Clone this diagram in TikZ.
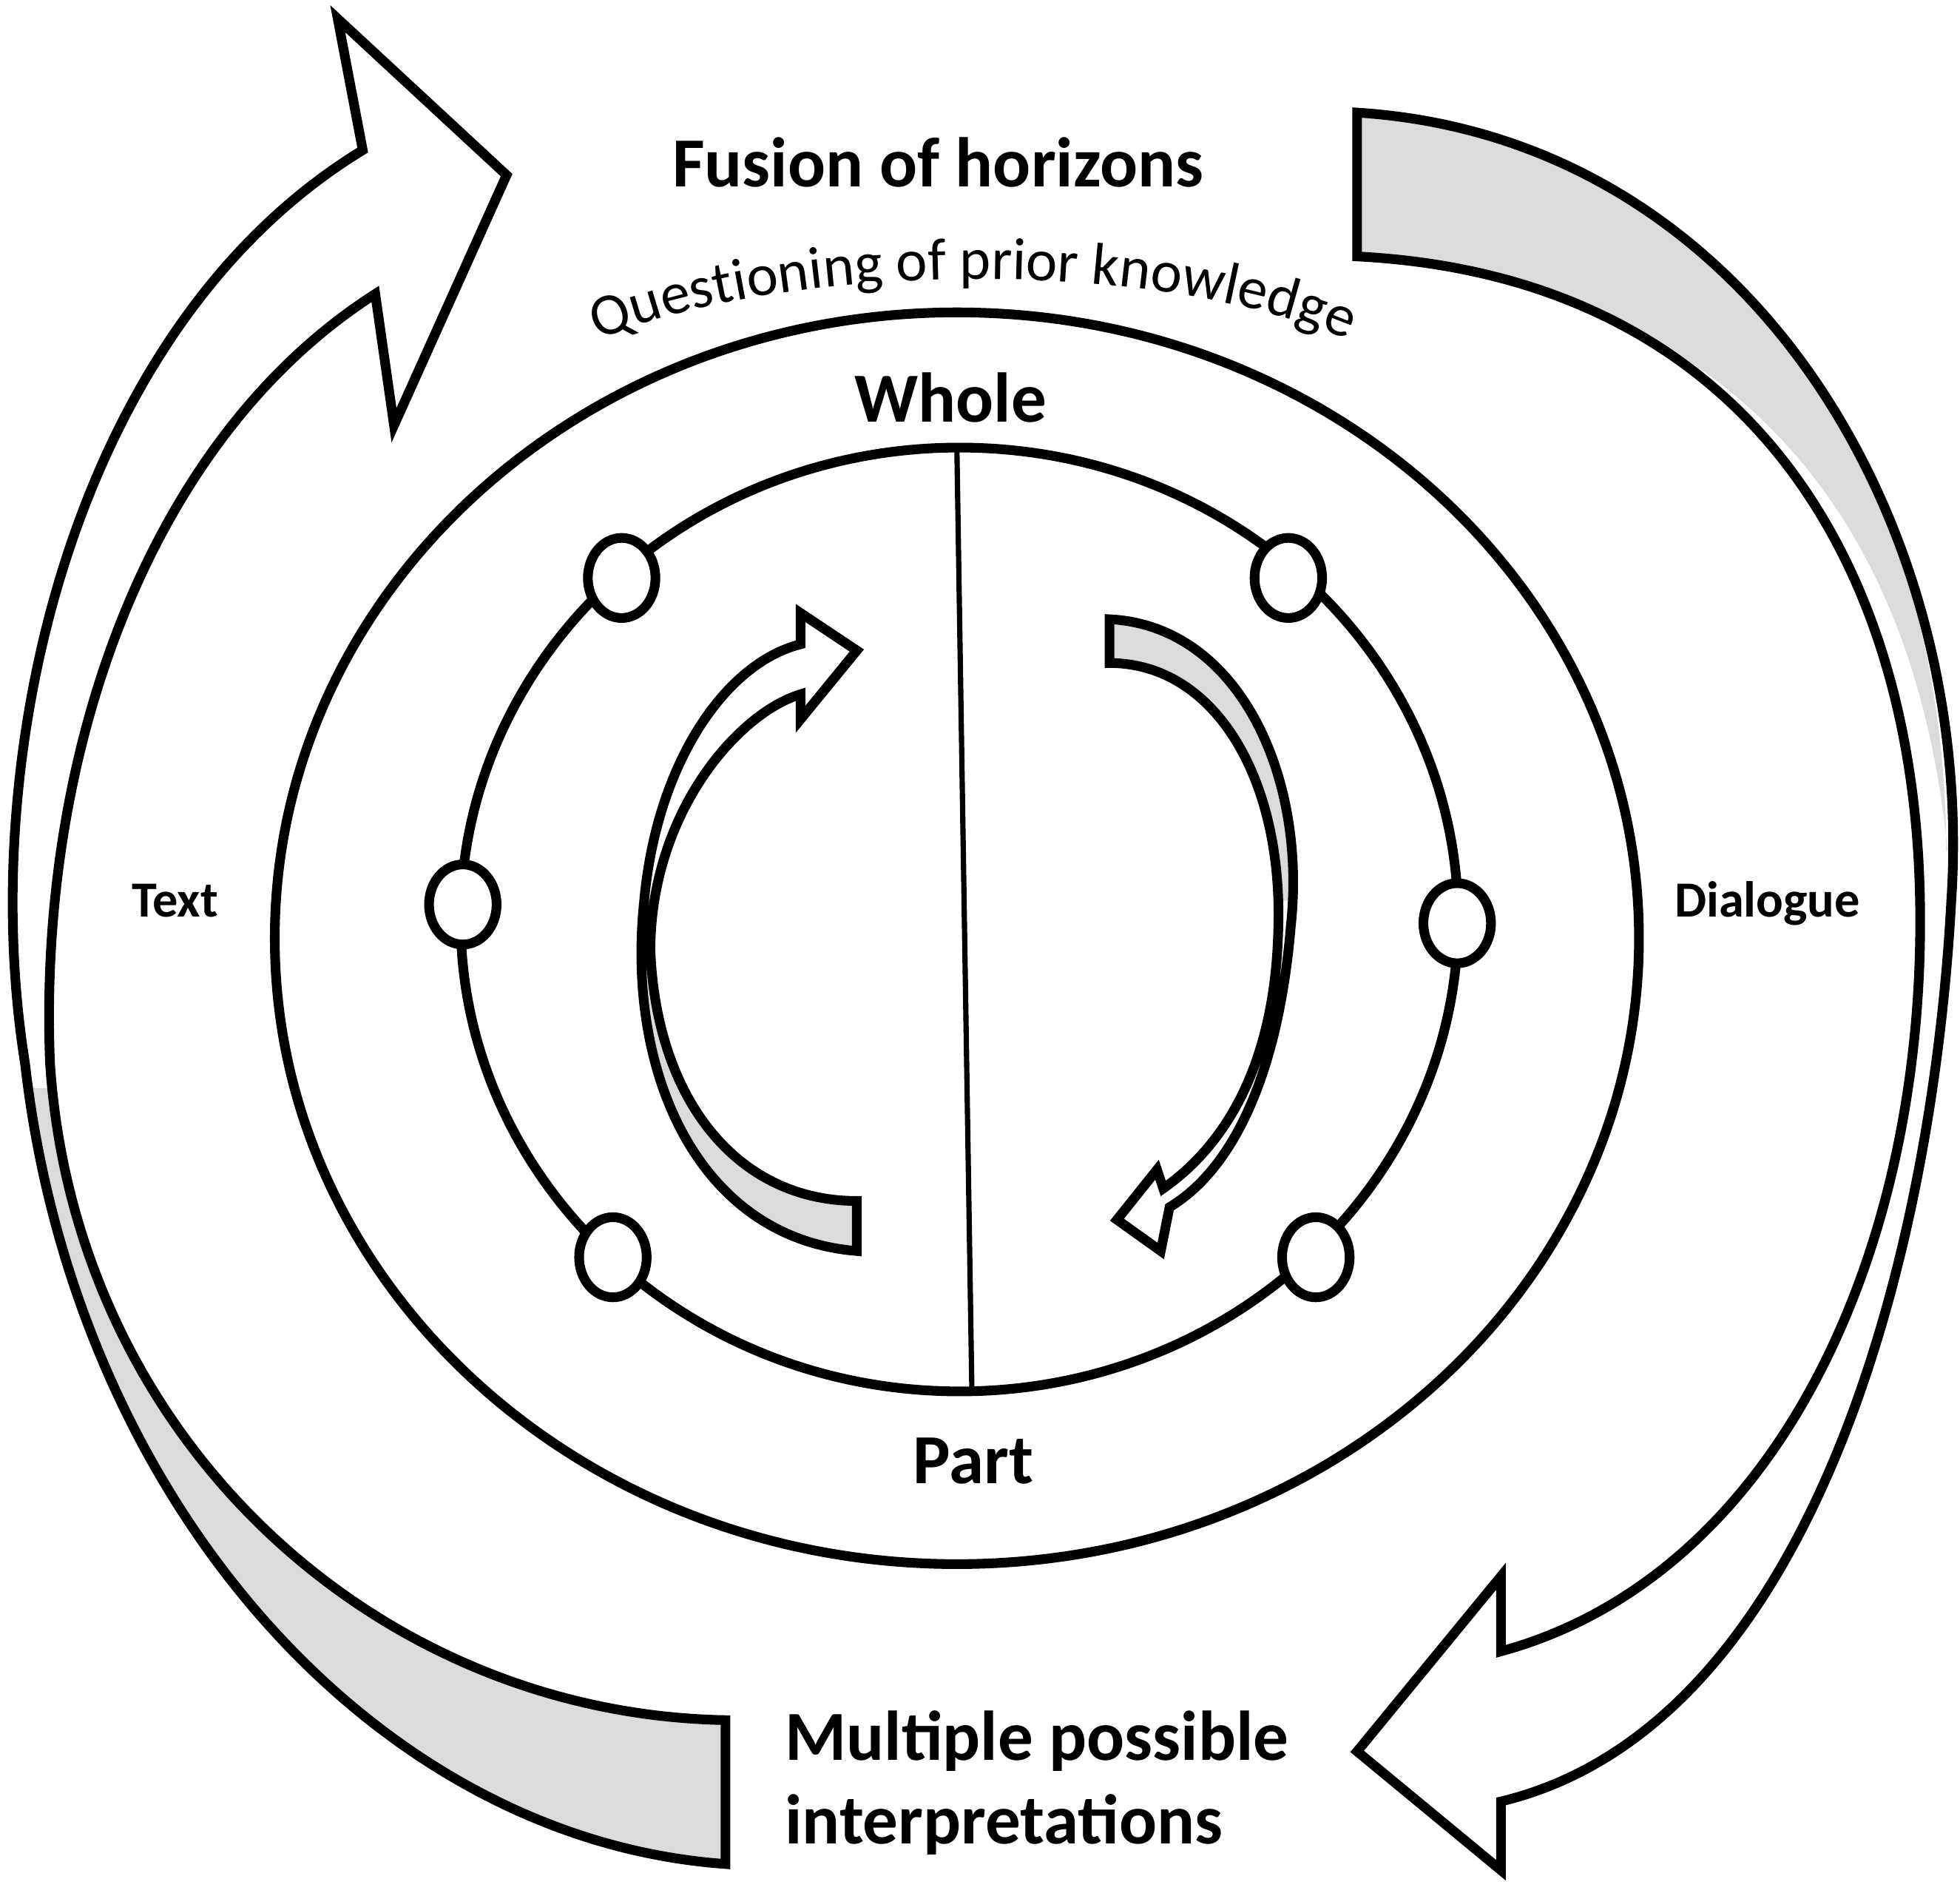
\documentclass[tikz,border=0pt]{standalone}
\usepackage{fontspec}
\setmainfont{Carlito}
\usetikzlibrary{decorations.text,shapes.geometric}
\definecolor{band}{gray}{0.86}
\begin{document}
\begin{tikzpicture}[x=0.01cm,y=-0.01cm,line width=2.2pt,line join=miter,
  lab/.style={font=\bfseries\fontsize{16}{19}\selectfont},
  sml/.style={font=\bfseries\fontsize{11.5}{13}\selectfont},
  dot/.style={draw,fill=white,ellipse,minimum width=0.54cm,minimum height=0.64cm,inner sep=0pt,line width=2.2pt}]
\useasboundingbox (0,0) rectangle (1567,1513);
% left big arrow
\begin{scope}
\clip (0,870) rectangle (700,1513);
\fill[band] (290,120) .. controls (60,260) and (-20,600) .. (20,850) .. controls (60,1200) and (300,1470) .. (580,1490) -- (580,1375) .. controls (300,1370) and (60,1150) .. (40,850) .. controls (30,600) and (120,350) .. (300,235) -- cycle;
\end{scope}
\draw (580,1375) .. controls (300,1370) and (60,1150) .. (40,850) .. controls (30,600) and (120,350) .. (300,235) -- (315,340) -- (405,140) -- (270,15) -- (290,120) .. controls (60,260) and (-20,600) .. (20,850) .. controls (60,1200) and (300,1470) .. (580,1490) -- cycle;
% right big arrow
\begin{scope}
\clip (1000,0) rectangle (1567,680);
\fill[band] (1085,90) .. controls (1400,110) and (1570,400) .. (1555,720) .. controls (1540,1000) and (1420,1260) .. (1200,1320) -- (1200,1440) .. controls (1450,1380) and (1570,1000) .. (1560,720) .. controls (1545,430) and (1400,230) .. (1085,205) -- cycle;
\end{scope}
\draw (1085,90) .. controls (1400,110) and (1580,420) .. (1560,720) .. controls (1545,1000) and (1450,1380) .. (1200,1440) -- (1200,1495) -- (1085,1400) -- (1200,1260) -- (1200,1320) .. controls (1420,1260) and (1540,1000) .. (1535,720) .. controls (1530,430) and (1380,220) .. (1085,205) -- cycle;
% circles
\node[draw,ellipse,minimum width=10.9cm,minimum height=10cm,line width=2.2pt] (outer) at (765,750) {};
\node[draw,ellipse,minimum width=7.97cm,minimum height=7.54cm,line width=2.2pt] (inner) at (767,735) {};
\draw[line width=1.2pt] (765,358) -- (777,1112);
\node[dot] (d1) at (497,462) {};
\node[dot] (d2) at (1030,462) {};
\node[dot] (d3) at (370,723) {};
\node[dot] (d4) at (1165,738) {};
\node[dot] (d5) at (490,1005) {};
\node[dot] (d6) at (1052,1005) {};
% small left arrow
\begin{scope}
\clip (400,760) rectangle (760,1100);
\fill[band] (685,1000) .. controls (560,990) and (500,860) .. (515,720) .. controls (530,620) and (580,530) .. (640,515) -- (640,555) .. controls (590,570) and (520,650) .. (520,760) .. controls (525,880) and (590,960) .. (685,960) -- cycle;
\end{scope}
\draw (685,960) .. controls (590,960) and (525,880) .. (520,760) .. controls (520,650) and (590,570) .. (640,555) -- (640,575) -- (685,520) -- (640,490) -- (640,515) .. controls (580,530) and (525,610) .. (515,720) .. controls (500,860) and (560,990) .. (685,1000) -- cycle;
% small right arrow
\begin{scope}
\clip (850,450) rectangle (1100,720);
\fill[band] (887,495) .. controls (990,500) and (1045,620) .. (1032,740) .. controls (1022,860) and (985,935) .. (935,965) -- (930,950) .. controls (980,915) and (1020,850) .. (1022,740) .. controls (1025,620) and (970,530) .. (887,530) -- cycle;
\end{scope}
\draw (887,495) .. controls (990,500) and (1045,620) .. (1032,740) .. controls (1022,860) and (985,935) .. (935,965) -- (928,1000) -- (893,975) -- (925,935) -- (930,950) .. controls (980,915) and (1020,850) .. (1022,740) .. controls (1025,620) and (970,530) .. (887,530) -- cycle;
% labels
\node[lab] (fus) at (750,130) {Fusion of horizons};
\path[decorate,decoration={text along path,text align=center,text color=black,
  text={|\fontsize{13.5}{16}\selectfont|Questioning of prior knowledge}}]
  (450,285) .. controls (600,205) and (950,200) .. (1105,285);
\node[lab] (whole) at (760,318) {Whole};
\node[lab] (part) at (778,1168) {Part};
\node[sml] (text) at (140,720) {Text};
\node[sml] (dia) at (1413,722) {Dialogue};
\node[lab,anchor=west,align=left] (mult) at (612,1425) {Multiple possible\\interpretations};
\end{tikzpicture}
\end{document}
